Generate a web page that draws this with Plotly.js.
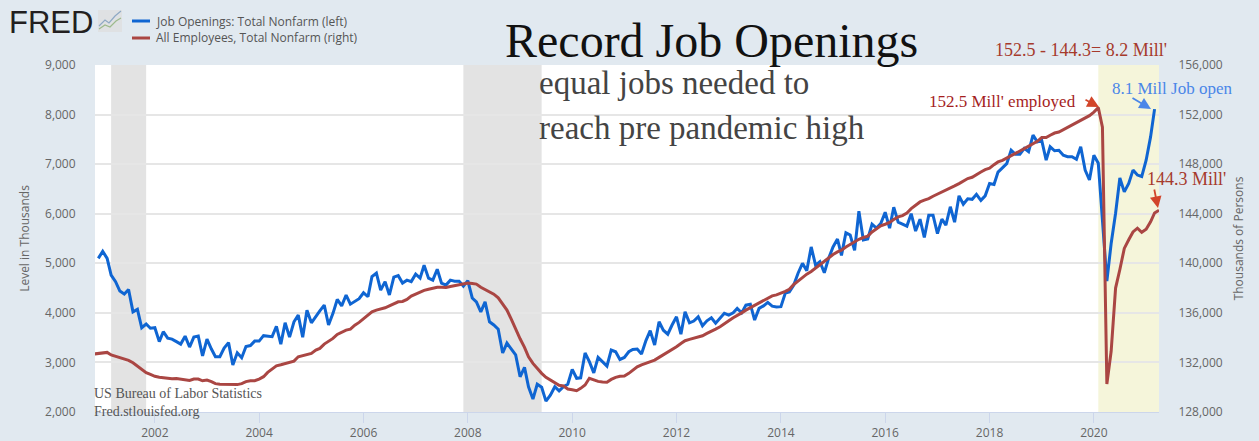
<!DOCTYPE html>
<html>
<head>
<meta charset="utf-8">
<title>Job openings and employment</title>
<script src="https://cdn.plot.ly/plotly-3.0.1.min.js"></script>
<style>
  html, body { margin: 0; padding: 0; background: #e1e9f0; }
  #chart { width: 1259px; height: 441px; }
</style>
</head>
<body>
<div id="chart"></div>
<script>
// Job openings, thousands, monthly from Dec 2000
const openings = [
  5100,
  5240, 5100, 4760, 4630, 4440, 4380, 4470, 4020, 4070, 3700, 3775, 3690,
  3700, 3420, 3620, 3490, 3470, 3420, 3370, 3530, 3310, 3510, 3530, 3130,
  3470, 3270, 3115, 3115, 3290, 3400, 2950, 3195, 3095, 3320, 3340, 3430,
  3430, 3540, 3530, 3520, 3730, 3370, 3800, 3510, 3820, 3955, 3510, 4055,
  3800, 3935, 4040, 4155, 3755, 3990, 4270, 4140, 4360, 4175, 4235, 4285,
  4405, 4325, 4730, 4800, 4460, 4630, 4360, 4720, 4750, 4600, 4660, 4630,
  4780, 4700, 4960, 4700, 4660, 4880, 4600, 4560, 4660, 4640, 4640, 4540,
  4650, 4300, 4220, 4020, 4220, 3820, 3755, 3670, 3190, 3390, 3270, 3150,
  2710, 2900, 2510, 2260, 2560, 2500, 2220, 2340, 2510, 2425, 2510, 2560,
  2860, 2680, 2690, 3190, 3015, 2790, 3100, 3015, 2925, 3250, 3215, 3060,
  3100, 3215, 3260, 3270, 3170, 3440, 3640, 3350, 3820, 3650, 3570, 3755,
  3920, 3570, 4020, 3800, 3835, 3920, 3740, 3840, 3900, 3790, 3890, 3990,
  3955, 4000, 4090, 4000, 4155, 4175, 3855, 4090, 4140, 4210, 4135, 4120,
  4125, 4400, 4420, 4560, 4800, 5000, 4850, 5330, 4960, 5030, 4810, 5100,
  5330, 5490, 5160, 5615, 5570, 5260, 6050, 5470, 5490, 5790, 5710, 5800,
  6030, 5710, 6130, 5830, 5790, 5750, 6000, 5650, 5890, 5520, 5970, 5970,
  5600, 5890, 5770, 6140, 5830, 6360, 6190, 6300, 6290, 6390, 6270, 6360,
  6610, 6590, 6840, 6930, 7010, 7280, 7200, 7200, 7320, 7250, 7585, 7450,
  7480, 7080, 7350, 7270, 7280, 7180, 7150, 7150, 7100, 7350, 6880, 6680,
  7180, 7020, 5950, 4640, 5400, 6010, 6720, 6440, 6610, 6880, 6780, 6750,
  7080, 7550, 8110
];

// All employees, thousands of persons, monthly from Nov 2000
const employees = [
  132680, 132730,
  132780, 132810, 132600, 132490, 132410, 132300, 132170, 131970, 131710, 131440, 131170, 131040,
  130880, 130800, 130770, 130680, 130680, 130710, 130640, 130610, 130550, 130660, 130660, 130520,
  130580, 130450, 130290, 130240, 130240, 130240, 130240, 130210, 130290, 130450, 130520, 130520,
  130660, 130850, 131200, 131470, 131730, 131810, 131900, 131970, 132110, 132460, 132540, 132650,
  132730, 132990, 133130, 133480, 133720, 133940, 134260, 134470, 134610, 134690, 135010, 135230,
  135500, 135820, 136080, 136220, 136300, 136410, 136570, 136760, 136890, 136920, 137080, 137350,
  137510, 137620, 137810, 137910, 137990, 138070, 138070, 138050, 138130, 138210, 138260, 138340,
  138400, 138370, 138320, 138070, 137890, 137700, 137510, 137210, 136700, 136220, 135470, 134670,
  133910, 133210, 132460, 131920, 131520, 131120, 130800, 130580, 130360, 130150, 130100, 129850,
  129800, 129720, 129910, 130180, 130720, 130580, 130470, 130420, 130400, 130630, 130800, 130880,
  130900, 131120, 131390, 131650, 131810, 131950, 132080, 132190, 132410, 132620, 132780, 132990,
  133260, 133530, 133750, 133860, 133940, 134020, 134150, 134340, 134550, 134690, 134880, 135150,
  135360, 135600, 135820, 136000, 136220, 136410, 136570, 136760, 136950, 137160, 137370, 137450,
  137570, 137730, 137910, 138290, 138560, 138880, 139120, 139340, 139630, 139900, 140190, 140490,
  140710, 140920, 141060, 141320, 141520, 141780, 141940, 142080, 142190, 142530, 142750, 143020,
  143150, 143290, 143530, 143740, 143850, 144060, 144410, 144680, 144950, 145090, 145220, 145410,
  145570, 145730, 145890, 146080, 146240, 146430, 146620, 146840, 146940, 147180, 147370, 147560,
  147670, 147960, 148180, 148310, 148500, 148740, 148930, 149060, 149250, 149440, 149600, 149840,
  150140, 150140, 150330, 150510, 150590, 150780, 150950, 151160, 151350, 151530, 151720, 151910,
  152200, 152560, 150990, 130260, 132900, 138000, 139500, 141200, 141900, 142530, 142830, 142500,
  142750, 143340, 144060, 144280
];

const leftTicks = [2000, 3000, 4000, 5000, 6000, 7000, 8000, 9000];
const rightTicks = [128000, 132000, 136000, 140000, 144000, 148000, 152000, 156000];
const yearTicks = ["2002", "2004", "2006", "2008", "2010", "2012", "2014", "2016", "2018", "2020"];

const blue = "#0f65d2";
const red = "#aa4643";
const axisFont = { family: "Open Sans", size: 12, color: "#666666" };
const serif = "Liberation Serif";

function monthsFrom(year, month, count) {
  const out = [];
  for (let i = 0; i < count; i++) {
    const y = year + Math.floor((month - 1 + i) / 12);
    const m = ((month - 1 + i) % 12) + 1;
    out.push(`${y}-${String(m).padStart(2, "0")}-01`);
  }
  return out;
}

// page pixels to paper fractions, plot box is 95..1159 by 65..412
const px = (x) => (x - 95) / 1064;
const py = (y) => (412 - y) / 347;

function note(text, x, y, size, color, family, anchor) {
  return {
    text, xref: "paper", yref: "paper", x: px(x), y: py(y), showarrow: false,
    xanchor: anchor || "left", yanchor: "middle",
    font: { family: family || serif, size, color },
  };
}

function arrow(x0, y0, x1, y1, color) {
  return {
    text: "", xref: "paper", yref: "paper", x: px(x1), y: py(y1),
    ax: x0 - x1, ay: y0 - y1, axref: "pixel", ayref: "pixel",
    showarrow: true, arrowhead: 2, arrowsize: 1.3, arrowwidth: 1.8, arrowcolor: color,
  };
}

function band(x0, x1, fill) {
  return { type: "rect", xref: "x", yref: "paper", x0, x1, y0: 0, y1: 1, fillcolor: fill, line: { width: 0 }, layer: "below" };
}

function pageLine(x0, y0, x1, y1, color, width) {
  return { type: "line", xref: "paper", yref: "paper", x0: px(x0), y0: py(y0), x1: px(x1), y1: py(y1), line: { color, width } };
}

const traces = [
  {
    x: monthsFrom(2000, 12, openings.length), y: openings, name: "Job Openings: Total Nonfarm (left)",
    type: "scatter", mode: "lines", line: { color: blue, width: 3, join: "round" }, yaxis: "y",
  },
  {
    x: monthsFrom(2000, 11, employees.length), y: employees, name: "All Employees, Total Nonfarm (right)",
    type: "scatter", mode: "lines", line: { color: red, width: 3, join: "round" }, yaxis: "y2",
  },
];

const layout = {
  width: 1259,
  height: 441,
  margin: { l: 95, r: 100, t: 65, b: 29, pad: 0 },
  paper_bgcolor: "#e1e9f0",
  plot_bgcolor: "#ffffff",
  showlegend: false,
  font: axisFont,
  xaxis: {
    type: "date",
    range: ["2000-11-08", "2021-04-01"],
    tickvals: yearTicks.map((y) => `${y}-01-01`),
    ticktext: yearTicks,
    showgrid: false,
    zeroline: false,
    showline: true,
    linecolor: "#ccd6eb",
    linewidth: 1,
    ticks: "outside",
    ticklen: 10,
    tickcolor: "#ccd6eb",
    tickfont: axisFont,
  },
  yaxis: {
    range: [2000, 9000],
    tickvals: leftTicks,
    ticktext: leftTicks.map((v) => v.toLocaleString("en-US")),
    gridcolor: "#e6e6e6",
    gridwidth: 2,
    zeroline: false,
    ticks: "outside",
    ticklen: 16,
    tickcolor: "rgba(0,0,0,0)",
    tickfont: axisFont,
    title: { text: "Level in Thousands", font: axisFont, standoff: 12 },
  },
  yaxis2: {
    overlaying: "y",
    side: "right",
    range: [128000, 156000],
    tickvals: rightTicks,
    ticktext: rightTicks.map((v) => v.toLocaleString("en-US")),
    showgrid: false,
    zeroline: false,
    ticks: "outside",
    ticklen: 16,
    tickcolor: "rgba(0,0,0,0)",
    tickfont: axisFont,
    title: { text: "Thousands of Persons", font: axisFont, standoff: 12 },
  },
  shapes: [
    band("2001-03-01", "2001-11-01", "#e3e3e3"),
    band("2007-12-01", "2009-06-01", "#e3e3e3"),
    band("2020-02-01", "2021-04-01", "rgba(241,241,205,0.75)"),
    pageLine(132, 21, 150, 21, blue, 3),
    pageLine(132, 38, 150, 38, red, 3),
    // little chart icon beside the logo
    { type: "rect", xref: "paper", yref: "paper", x0: px(98), x1: px(122), y0: py(32), y1: py(10), fillcolor: "#dfe1e3", line: { width: 0 } },
    { type: "path", xref: "paper", yref: "paper", line: { color: "#8fa9c4", width: 1.2 },
      path: `M ${px(99)} ${py(26)} L ${px(105)} ${py(20)} L ${px(109)} ${py(23)} L ${px(115)} ${py(16)} L ${px(121)} ${py(11)}` },
    { type: "path", xref: "paper", yref: "paper", line: { color: "#9dba8c", width: 1.2 },
      path: `M ${px(99)} ${py(29)} L ${px(105)} ${py(25)} L ${px(110)} ${py(27)} L ${px(116)} ${py(21)} L ${px(121)} ${py(18)}` },
  ],
  annotations: [
    note("FRED", 7, 22, 31, "#231f20", "Liberation Sans"),
    note("Job Openings: Total Nonfarm (left)", 154, 21, 12, "#555555", "Open Sans"),
    note("All Employees, Total Nonfarm (right)", 154, 38, 12, "#555555", "Open Sans"),
    note("Record Job Openings", 503, 41, 48, "#111111"),
    note("equal jobs needed to", 537, 83, 33, "#444444"),
    note("reach pre pandemic high", 537, 128, 33, "#444444"),
    note("152.5 - 144.3= 8.2 Mill'", 993, 50, 18, "#a63a2c"),
    note("152.5 Mill' employed", 927, 101, 17, "#a51e1e"),
    note("8.1 Mill Job open", 1110, 88, 17, "#4a86e8"),
    note("144.3 Mill'", 1145, 179, 18, "#a63a2c"),
    note("US Bureau of Labor Statistics", 92, 393, 14, "#555555"),
    note("Fred.stlouisfed.org", 92, 411, 14, "#555555"),
    arrow(1084, 99, 1099, 107, "#d2452a"),
    arrow(1131, 97, 1151, 109, "#4a86e8"),
    arrow(1154, 188, 1158, 208, "#d2452a"),
  ],
};

Plotly.newPlot("chart", traces, layout, { displayModeBar: false, staticPlot: true });
</script>
</body>
</html>
